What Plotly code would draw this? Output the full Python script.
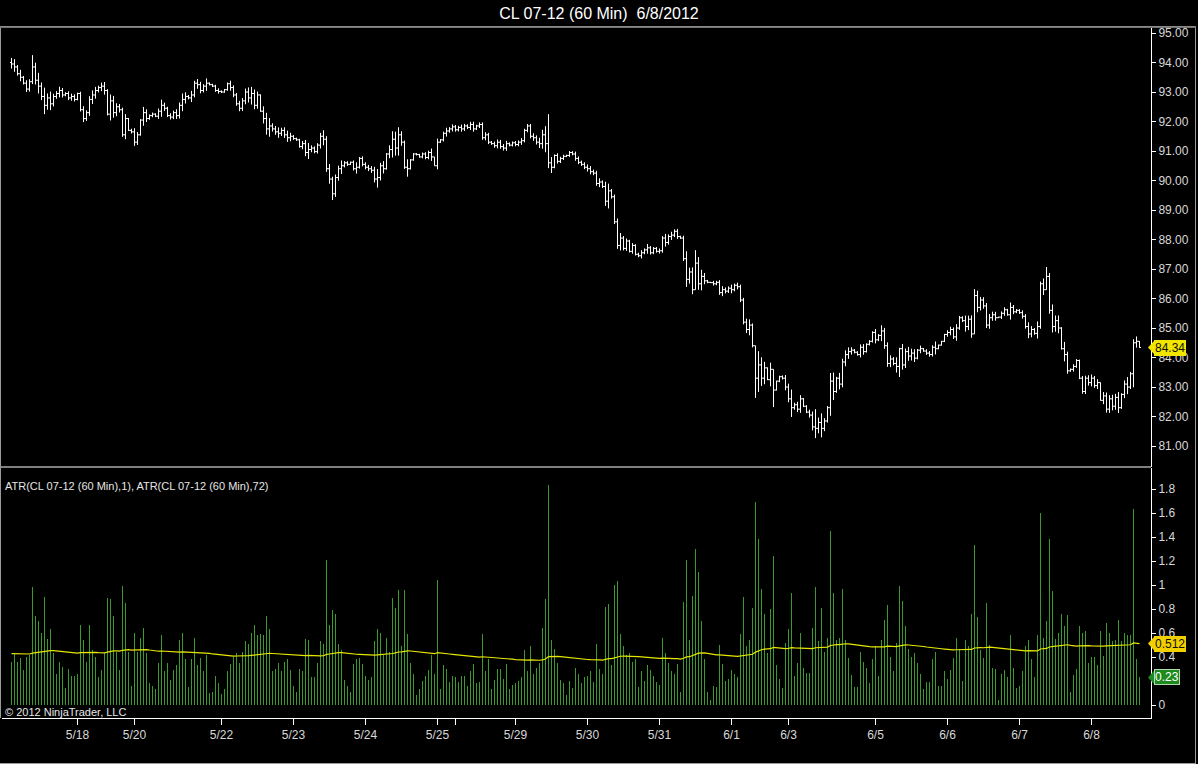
import plotly.graph_objects as go

# ---------------- data ----------------
title_text = "CL 07-12 (60 Min)\u00a0 6/8/2012"
indicator_label = "ATR(CL 07-12 (60 Min),1), ATR(CL 07-12 (60 Min),72)"
copyright_text = "\u00a9 2012 NinjaTrader, LLC"

first_open = 94.00

closes = [
    93.95, 93.85, 93.62, 93.50, 93.30, 93.10, 93.35, 93.85, 93.40, 93.20,
    92.85, 92.55, 92.80, 92.60, 92.85, 92.95, 93.05, 92.90, 92.95, 92.80,
    92.85, 92.75, 92.95, 92.40, 92.10, 92.30, 92.75, 92.90, 93.05, 93.15,
    93.20, 93.05, 92.25, 92.70, 92.30, 92.50, 92.40, 91.55, 92.10, 91.70,
    91.65, 91.30, 91.55, 92.05, 92.30, 92.10, 92.20, 92.25, 92.18, 92.35,
    92.55, 92.45, 92.20, 92.15, 92.30, 92.20, 92.55, 92.75, 92.85, 92.80,
    92.90, 93.30, 93.25, 93.05, 93.20, 93.30, 93.25, 93.20, 93.05, 93.02,
    93.00, 93.08, 93.28, 93.15, 92.90, 92.60, 92.45, 92.70, 93.00, 92.80,
    92.95, 92.55, 92.90, 92.35, 92.10, 91.75, 91.85, 91.75, 91.65, 91.60,
    91.70, 91.55, 91.45, 91.50, 91.42, 91.38, 91.15, 91.25, 90.95, 91.05,
    91.10, 90.98, 91.20, 91.50, 91.40, 90.40, 90.05, 89.55, 90.10, 90.40,
    90.50, 90.60, 90.55, 90.62, 90.40, 90.45, 90.75, 90.55, 90.45, 90.40,
    90.35, 90.05, 90.10, 90.50, 90.40, 90.90, 91.05, 91.40, 91.10, 91.55,
    91.30, 90.45, 90.40, 90.70, 90.90, 90.88, 90.80, 90.90, 90.78, 90.95,
    90.80, 90.50, 91.30, 91.38, 91.60, 91.68, 91.75, 91.82, 91.72, 91.80,
    91.75, 91.85, 91.80, 91.90, 91.75, 91.85, 91.90, 91.45, 91.55, 91.30,
    91.25, 91.18, 91.30, 91.15, 91.10, 91.25, 91.20, 91.28, 91.22, 91.30,
    91.35, 91.70, 91.85, 91.50, 91.45, 91.30, 91.25, 91.55, 91.25, 90.60,
    90.45, 90.85, 90.65, 90.75, 90.82, 90.85, 90.95, 90.90, 90.75, 90.62,
    90.55, 90.45, 90.40, 90.30, 90.25, 89.90, 89.95, 89.80, 89.30, 89.65,
    89.45, 88.60, 87.80, 88.05, 87.70, 87.95, 87.60, 87.80, 87.50, 87.45,
    87.55, 87.65, 87.72, 87.55, 87.70, 87.60, 87.62, 88.05, 87.90, 88.10,
    88.15, 88.28, 88.10, 88.05, 87.35, 86.65, 86.90, 86.30, 87.20, 86.50,
    86.75, 86.60, 86.55, 86.54, 86.50, 86.55, 86.20, 86.30, 86.25, 86.35,
    86.30, 86.45, 86.40, 85.95, 85.20, 84.95, 85.10, 84.40, 83.30, 83.75,
    83.30, 83.65, 83.25, 83.60, 82.90, 83.20, 83.35, 83.30, 83.00, 82.60,
    82.30, 82.40, 82.25, 82.60, 82.35, 82.15, 82.05, 81.65, 81.60, 81.80,
    81.60, 81.85, 82.30, 83.20, 82.85, 83.30, 83.10, 83.85, 84.10, 84.20,
    84.25, 84.18, 84.10, 84.35, 84.20, 84.45, 84.55, 84.85, 84.60, 84.75,
    84.90, 84.40, 83.80, 83.95, 83.80, 83.70, 84.30, 83.75, 84.20, 84.05,
    84.15, 83.98, 84.25, 84.30, 84.22, 84.15, 84.10, 84.35, 84.30, 84.42,
    84.55, 84.78, 84.85, 84.95, 84.70, 85.00, 85.35, 85.25, 85.05, 85.30,
    84.80, 86.10, 85.70, 85.95, 85.75, 85.10, 85.35, 85.45, 85.35, 85.37,
    85.50, 85.62, 85.45, 85.70, 85.55, 85.60, 85.52, 85.40, 85.05, 84.80,
    84.95, 84.82, 85.05, 86.50, 86.30, 86.75, 85.60, 85.05, 85.25, 85.00,
    84.30, 84.10, 83.55, 83.60, 83.70, 83.90, 83.30, 82.85, 83.30, 83.15,
    83.30, 83.05, 83.15, 82.55, 82.70, 82.25, 82.60, 82.35, 82.65, 82.30,
    82.75, 83.10, 83.00, 83.45, 84.50, 84.55, 84.34,
]

# ATR(1) = true range of each bar
ranges = [
    0.36, 0.43, 0.36, 0.39, 0.29, 0.40, 0.42, 0.98, 0.74, 0.70,
    0.60, 0.90, 0.55, 0.63, 0.43, 0.26, 0.36, 0.32, 0.14, 0.30,
    0.24, 0.24, 0.26, 0.67, 0.54, 0.36, 0.67, 0.46, 0.40, 0.23,
    0.29, 0.43, 0.89, 0.88, 0.74, 0.44, 0.29, 0.99, 0.85, 0.44,
    0.16, 0.60, 0.44, 0.56, 0.64, 0.43, 0.18, 0.16, 0.13, 0.35,
    0.58, 0.28, 0.35, 0.21, 0.29, 0.33, 0.54, 0.60, 0.38, 0.15,
    0.38, 0.56, 0.33, 0.39, 0.28, 0.42, 0.10, 0.11, 0.24, 0.18,
    0.09, 0.13, 0.28, 0.34, 0.40, 0.43, 0.35, 0.44, 0.53, 0.51,
    0.60, 0.67, 0.58, 0.59, 0.58, 0.74, 0.63, 0.28, 0.30, 0.35,
    0.28, 0.36, 0.38, 0.29, 0.16, 0.11, 0.30, 0.28, 0.55, 0.54,
    0.23, 0.23, 0.35, 0.53, 0.51, 1.21, 0.67, 0.79, 0.76, 0.51,
    0.46, 0.21, 0.16, 0.11, 0.34, 0.38, 0.39, 0.34, 0.24, 0.21,
    0.23, 0.53, 0.63, 0.60, 0.42, 0.56, 0.44, 0.89, 0.81, 0.96,
    0.49, 0.96, 0.59, 0.35, 0.26, 0.08, 0.13, 0.20, 0.24, 0.29,
    0.42, 0.26, 1.04, 0.13, 0.33, 0.30, 0.19, 0.24, 0.23, 0.19,
    0.24, 0.24, 0.16, 0.28, 0.34, 0.18, 0.19, 0.59, 0.28, 0.38,
    0.13, 0.21, 0.30, 0.30, 0.22, 0.34, 0.13, 0.17, 0.18, 0.20,
    0.23, 0.46, 0.28, 0.49, 0.26, 0.31, 0.35, 0.64, 0.88, 1.83,
    0.54, 0.47, 0.35, 0.21, 0.18, 0.08, 0.20, 0.14, 0.31, 0.26,
    0.18, 0.23, 0.24, 0.28, 0.19, 0.51, 0.30, 0.26, 0.82, 0.84,
    0.33, 1.00, 1.03, 0.59, 0.49, 0.42, 0.43, 0.36, 0.38, 0.15,
    0.28, 0.20, 0.33, 0.29, 0.24, 0.19, 0.17, 0.56, 0.43, 0.35,
    0.28, 0.26, 0.34, 0.11, 0.86, 1.21, 0.54, 0.91, 1.30, 1.11,
    0.70, 0.38, 0.11, 0.04, 0.16, 0.15, 0.50, 0.34, 0.20, 0.22,
    0.29, 0.26, 0.23, 0.59, 0.90, 0.49, 0.54, 0.81, 1.69, 1.38,
    0.97, 0.76, 0.43, 0.80, 1.24, 0.33, 0.22, 0.14, 0.52, 0.63,
    0.93, 0.24, 0.35, 0.60, 0.31, 0.27, 0.27, 0.64, 0.98, 0.53,
    0.81, 0.44, 0.56, 1.45, 0.93, 0.54, 0.56, 0.97, 0.54, 0.39,
    0.25, 0.15, 0.15, 0.44, 0.36, 0.31, 0.18, 0.38, 0.49, 0.24,
    0.54, 0.71, 0.83, 0.40, 0.28, 0.52, 0.99, 0.87, 0.66, 0.47,
    0.40, 0.43, 0.35, 0.26, 0.13, 0.19, 0.19, 0.38, 0.44, 0.16,
    0.16, 0.28, 0.22, 0.29, 0.39, 0.56, 0.47, 0.20, 0.54, 0.49,
    0.76, 1.33, 0.73, 0.46, 0.39, 0.85, 0.50, 0.31, 0.30, 0.04,
    0.26, 0.29, 0.23, 0.58, 0.31, 0.14, 0.16, 0.28, 0.49, 0.54,
    0.38, 0.23, 0.58, 1.60, 0.56, 0.70, 1.38, 0.95, 0.55, 0.60,
    0.76, 0.66, 0.75, 0.11, 0.25, 0.30, 0.66, 0.60, 0.62, 0.35,
    0.40, 0.40, 0.33, 0.62, 0.41, 0.68, 0.60, 0.53, 0.54, 0.71,
    0.53, 0.60, 0.58, 0.58, 1.63, 0.38, 0.23,
]

# bars whose wick sits clearly on one side
spike_highs = {7: 94.25, 179: 92.25, 228: 87.64, 321: 86.32, 345: 87.07, 374: 84.62}
spike_lows = {107: 89.34, 248: 82.63, 254: 82.32, 268: 81.27, 296: 83.34}

atr72_seed = 0.43
atr_period = 72

date_tick_index = [22, 41, 70, 94, 118, 142, 148, 168, 192, 216, 240, 259, 288, 312, 336, 360]
date_tick_text = ["5/18", "5/20", "5/22", "5/23", "5/24", "5/25", "", "5/29", "5/30",
                  "5/31", "6/1", "6/3", "6/5", "6/6", "6/7", "6/8"]
price_ticks = [81, 82, 83, 84, 85, 86, 87, 88, 89, 90, 91, 92, 93, 94, 95]
atr_ticks = [0, 0.2, 0.4, 0.6, 0.8, 1.0, 1.2, 1.4, 1.6, 1.8]
atr_tick_text = ["0", "0.2", "0.4", "0.6", "0.8", "1", "1.2", "1.4", "1.6", "1.8"]

# ---------------- derived series ----------------
n = len(closes)
idx = list(range(n))
opens = [first_open] + closes[:-1]
highs, lows = [], []
for i in range(n):
    o, c, r = opens[i], closes[i], ranges[i]
    body = abs(c - o)
    extra = max(r - body, 0.0)
    hi = max(o, c) + extra / 2
    lo = min(o, c) - extra / 2
    if i in spike_highs:
        hi = max(spike_highs[i], max(o, c))
        lo = min(hi - r, min(o, c))
    if i in spike_lows:
        lo = min(spike_lows[i], min(o, c))
        hi = max(lo + r, max(o, c))
    highs.append(hi)
    lows.append(lo)

atr72 = []
a = atr72_seed
for tr in ranges:
    a = (a * (atr_period - 1) + tr) / atr_period
    atr72.append(a)

# ---------------- geometry ----------------
W, H = 1198, 764
L, R, T, B = 2, 47, 28, 46
PW, PH = W - L - R, H - T - B
price_bottom = (H - B - 467) / PH
atr_top = (H - B - 468) / PH
X_SHIFT = 1 / 6  # half a pixel, so 1px bars sit on whole pixels


def px_x(p):
    return (p - L) / PW


def px_y(p):
    return (H - B - p) / PH


FONT = "Liberation Sans, Arial, sans-serif"
TICKC = "#d8d8d8"

fig = go.Figure()
fig.add_trace(go.Ohlc(
    x=idx, open=opens, high=highs, low=lows, close=closes,
    increasing=dict(line=dict(color="white", width=1)),
    decreasing=dict(line=dict(color="white", width=1)),
    tickwidth=0.5, xaxis="x", yaxis="y", hoverinfo="skip", name="CL 07-12",
))
fig.add_trace(go.Bar(
    x=idx, y=ranges, width=1 / 3, xaxis="x", yaxis="y2",
    marker=dict(color="#3a9a2a", line=dict(width=0)), hoverinfo="skip", name="ATR 1",
))
fig.add_trace(go.Scatter(
    x=idx, y=atr72, mode="lines", xaxis="x", yaxis="y2",
    line=dict(color="#e6e600", width=1.2), hoverinfo="skip", name="ATR 72",
))

axis_common = dict(showgrid=False, zeroline=False, showline=True, linecolor="white",
                   linewidth=1, ticks="outside", tickcolor="white", tickwidth=1,
                   tickfont=dict(family=FONT, size=12, color=TICKC))

fig.update_layout(
    width=W, height=H,
    paper_bgcolor="black", plot_bgcolor="black",
    margin=dict(l=L, r=R, t=T, b=B),
    showlegend=False,
    font=dict(family=FONT, size=12, color=TICKC),
    title=dict(text=title_text, x=0.5, xref="container", xanchor="center",
               y=1 - 13 / H, yref="container", yanchor="middle",
               font=dict(family=FONT, size=16, color="white")),
    xaxis=dict(range=[-3 - X_SHIFT, 380 - X_SHIFT], anchor="y2", tickmode="array",
               tickvals=date_tick_index, ticktext=date_tick_text, ticklen=6,
               rangeslider=dict(visible=False), **axis_common),
    yaxis=dict(domain=[price_bottom, 1], range=[80.29, 95.17], side="right", anchor="x",
               tickmode="array", tickvals=price_ticks, tickformat=".2f", ticklen=4,
               **axis_common),
    yaxis2=dict(domain=[0, atr_top], range=[-0.108, 1.975], side="right", anchor="x",
                tickmode="array", tickvals=atr_ticks, ticktext=atr_tick_text, ticklen=4,
                **axis_common),
    hovermode=False,
    bargap=0,
)

shapes = [
    # top frame line
    dict(type="line", xref="paper", yref="paper", x0=px_x(0), x1=px_x(1196), y0=1.0015, y1=1.0015,
         line=dict(color="white", width=1)),
    # panel separator
    dict(type="line", xref="paper", yref="paper", x0=px_x(0), x1=1, y0=price_bottom, y1=price_bottom,
         line=dict(color="white", width=1)),
    # window borders
    dict(type="line", xref="paper", yref="paper", x0=px_x(0.5), x1=px_x(0.5), y0=0, y1=1,
         line=dict(color="#9a9a9a", width=1)),
    dict(type="line", xref="paper", yref="paper", x0=px_x(1195.5), x1=px_x(1195.5), y0=px_y(763), y1=1,
         line=dict(color="#9a9a9a", width=1)),
    dict(type="line", xref="paper", yref="paper", x0=px_x(0), x1=px_x(1196), y0=px_y(763.5), y1=px_y(763.5),
         line=dict(color="#9a9a9a", width=1)),
]

annotations = [
    dict(text=indicator_label, xref="paper", yref="paper", x=px_x(3), y=px_y(486),
         xanchor="left", yanchor="middle", showarrow=False,
         font=dict(family=FONT, size=11, color="#e6e6e6")),
    dict(text=copyright_text, xref="paper", yref="paper", x=px_x(3), y=px_y(712),
         xanchor="left", yanchor="middle", showarrow=False,
         font=dict(family=FONT, size=11, color="#e6e6e6")),
]


def add_tag(value, text, yref, half, bg, fg, border):
    tip = px_x(1148)
    base = px_x(1154)
    shapes.append(dict(type="path", xref="paper", yref=yref,
                       path=f"M {tip},{value} L {base},{value + half} L {base},{value - half} Z",
                       fillcolor=bg, line=dict(color=bg, width=0)))
    annotations.append(dict(text=text, xref="paper", yref=yref, x=base, y=value,
                            xanchor="left", yanchor="middle", showarrow=False,
                            bgcolor=bg, bordercolor=border, borderwidth=1, borderpad=0,
                            font=dict(family=FONT, size=12, color=fg)))


add_tag(closes[-1], f"{closes[-1]:.2f}", "y", 0.22, "#f2e600", "#111111", "#f2e600")
add_tag(atr72[-1], f"{atr72[-1]:.3f}", "y2", 0.055, "#f2d000", "#111111", "#f2d000")
add_tag(ranges[-1], f"{ranges[-1]:.2f}", "y2", 0.055, "#1e8a1e", "white", "#b0d8b0")

fig.update_layout(shapes=shapes, annotations=annotations)

fig.write_html("out.html", config={"displayModeBar": False},
               post_script="document.body.style.margin='0px';document.body.style.overflow='hidden';")
